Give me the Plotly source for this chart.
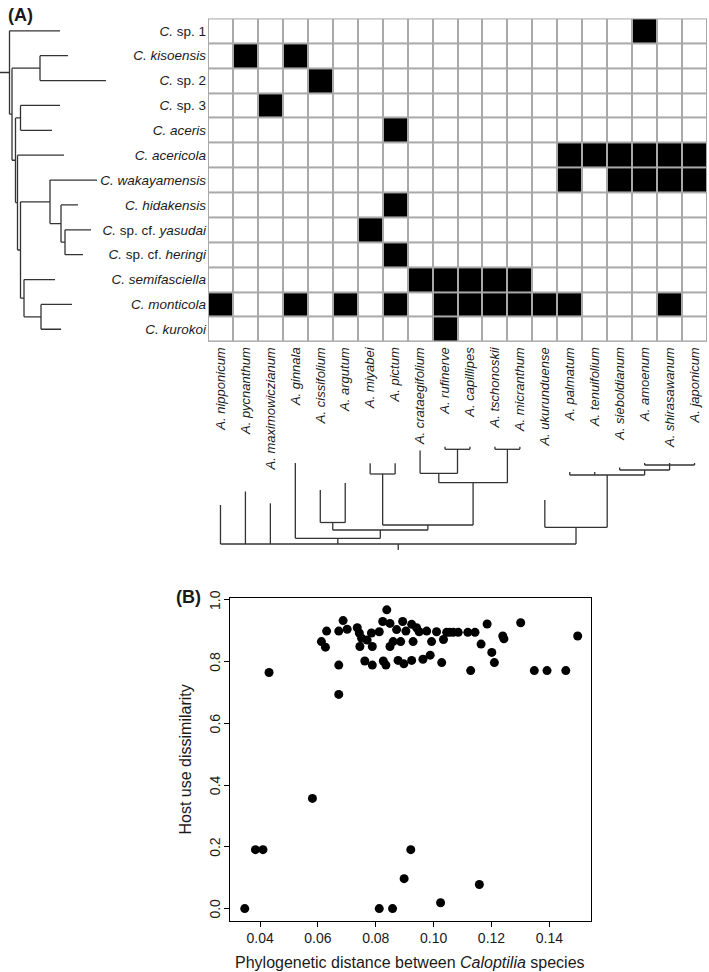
import plotly.graph_objects as go

W, H = 709, 972
FONT = "Liberation Sans, Arial, Helvetica, sans-serif"
TXT = "#1a1a1a"
LINE = "#333333"

# ---------------- data: panel A ----------------
species_keys = ["C_sp1", "C_kisoensis", "C_sp2", "C_sp3", "C_aceris", "C_acericola",
                "C_wakayamensis", "C_hidakensis", "C_yasudai", "C_heringi",
                "C_semifasciella", "C_monticola", "C_kurokoi"]
species_labels = ["<i>C.</i> sp. 1", "<i>C. kisoensis</i>", "<i>C.</i> sp. 2", "<i>C.</i> sp. 3",
                  "<i>C. aceris</i>", "<i>C. acericola</i>", "<i>C. wakayamensis</i>",
                  "<i>C. hidakensis</i>", "<i>C.</i> sp. cf. <i>yasudai</i>",
                  "<i>C.</i> sp. cf. <i>heringi</i>", "<i>C. semifasciella</i>",
                  "<i>C. monticola</i>", "<i>C. kurokoi</i>"]
hosts = ["nipponicum", "pycnanthum", "maximowiczianum", "ginnala", "cissifolium", "argutum",
         "miyabei", "pictum", "crataegifolium", "rufinerve", "capillipes", "tschonoskii",
         "micranthum", "ukurunduense", "palmatum", "tenuifolium", "sieboldianum", "amoenum",
         "shirasawanum", "japonicum"]
host_labels = ["<i>A. " + h + "</i>" for h in hosts]

host_use = [
    ["amoenum"],
    ["pycnanthum", "ginnala"],
    ["cissifolium"],
    ["maximowiczianum"],
    ["pictum"],
    ["palmatum", "tenuifolium", "sieboldianum", "amoenum", "shirasawanum", "japonicum"],
    ["palmatum", "sieboldianum", "amoenum", "shirasawanum", "japonicum"],
    ["pictum"],
    ["miyabei"],
    ["pictum"],
    ["crataegifolium", "rufinerve", "capillipes", "tschonoskii", "micranthum"],
    ["nipponicum", "ginnala", "argutum", "pictum", "rufinerve", "capillipes", "tschonoskii",
     "micranthum", "ukurunduense", "palmatum", "shirasawanum"],
    ["rufinerve"],
]

# phylogenies (branch lengths in relative units)
caloptilia_newick = ("(C_sp1:50.5,((C_kisoensis:28,C_sp2:66):28,((C_sp3:39.5,C_aceris:31.5):5,"
                     "(C_acericola:46.5,((C_wakayamensis:47,(C_hidakensis:17,(C_yasudai:26,"
                     "C_heringi:18):4):11):29.5,(C_semifasciella:31,(C_monticola:31,"
                     "C_kurokoi:20):17):3.5):3):2):3.5):2.5):9.5;")
acer_newick = ("(nipponicum:39,pycnanthum:52.5,maximowiczianum:40.7,(ginnala:75.3,"
               "((cissifolium:32.5,argutum:39.5):7.5,((miyabei:10.7,pictum:10.7):51,"
               "((crataegifolium:22.8,(rufinerve:2.6,capillipes:2.6):24):9.4,"
               "(tschonoskii:2.6,micranthum:2.6):33.4):42.3):5):8.3):5.7,"
               "(ukurunduense:27.3,(palmatum:3,tenuifolium:3,(sieboldianum:2.5,"
               "(amoenum:2,shirasawanum:2,japonicum:2):5):5):52.3):16.7):6;")

# ---------------- data: panel B ----------------
phylo_dist = [0.0347, 0.0384, 0.0410, 0.0581, 0.0812, 0.0858, 0.0898, 0.0921, 0.1024, 0.1158,
              0.0431, 0.0672,
              0.0612, 0.0626, 0.0630, 0.0672, 0.0672, 0.0687, 0.0701, 0.0736, 0.0743, 0.0745,
              0.0751, 0.0762, 0.0770, 0.0785, 0.0788, 0.0788, 0.0812, 0.0826, 0.0835, 0.0838,
              0.0824, 0.0849, 0.0849, 0.0860, 0.0872, 0.0877, 0.0886, 0.0893, 0.0897, 0.0904,
              0.0924, 0.0924, 0.0929, 0.0941, 0.0950, 0.0963, 0.0976, 0.0988, 0.0993, 0.1010,
              0.1028, 0.1034, 0.1045, 0.1056, 0.1068, 0.1085, 0.1118, 0.1143, 0.1185, 0.1164,
              0.1128, 0.1201, 0.1210, 0.1239, 0.1243, 0.1301, 0.1348, 0.1392, 0.1457, 0.1498]
host_dissim = [0.000, 0.191, 0.191, 0.357, 0.000, 0.000, 0.097, 0.191, 0.019, 0.078,
               0.765, 0.694,
               0.865, 0.847, 0.899, 0.899, 0.789, 0.933, 0.905, 0.910, 0.893, 0.849,
               0.876, 0.802, 0.870, 0.893, 0.849, 0.789, 0.897, 0.802, 0.789, 0.968,
               0.930, 0.924, 0.849, 0.865, 0.904, 0.804, 0.865, 0.930, 0.793, 0.899,
               0.921, 0.804, 0.865, 0.910, 0.897, 0.808, 0.899, 0.821, 0.865, 0.897,
               0.797, 0.872, 0.895, 0.895, 0.895, 0.895, 0.895, 0.895, 0.922, 0.857,
               0.771, 0.830, 0.797, 0.883, 0.874, 0.926, 0.771, 0.771, 0.771, 0.883]
x_ticks = [0.04, 0.06, 0.08, 0.10, 0.12, 0.14]
y_ticks = [0.0, 0.2, 0.4, 0.6, 0.8, 1.0]


# ---------------- helpers ----------------
def parse_newick(s):
    s = s.strip().rstrip(";")
    pos = 0

    def node():
        nonlocal pos
        children = []
        if s[pos] == "(":
            pos += 1
            while True:
                children.append(node())
                if s[pos] == ",":
                    pos += 1
                    continue
                if s[pos] == ")":
                    pos += 1
                    break
        start = pos
        while pos < len(s) and s[pos] not in ":,()":
            pos += 1
        name = s[start:pos]
        bl = 0.0
        if pos < len(s) and s[pos] == ":":
            pos += 1
            start = pos
            while pos < len(s) and s[pos] not in ",()":
                pos += 1
            bl = float(s[start:pos])
        return {"name": name, "bl": bl, "children": children}

    return node()


def tree_segments(tree, tip_pos):
    dep, pp = [], []

    def walk(n, parent_depth):
        d = parent_depth + n["bl"]
        if not n["children"]:
            p = tip_pos[n["name"]]
        else:
            ps = [walk(c, d) for c in n["children"]]
            p = (ps[0] + ps[-1]) / 2.0
            dep.extend([d, d, None])
            pp.extend([ps[0], ps[-1], None])
        dep.extend([parent_depth, d, None])
        pp.extend([p, p, None])
        return p

    walk(tree, 0.0)
    return dep, pp


nr, nc = len(species_keys), len(hosts)
z = [[1 if h in host_use[i] else 0 for h in hosts] for i in range(nr)]

# paper geometry (pixels)
gx0, gx1 = 208, 707
gy0, gy1 = 18.4, 341.7


def px(x):
    return x / W


def py(y):
    return 1 - y / H


fig = go.Figure()

fig.add_trace(go.Heatmap(
    z=z, x=list(range(nc)), y=list(range(nr)),
    colorscale=[[0, "white"], [1, "black"]], zmin=0, zmax=1,
    xgap=2, ygap=2, showscale=False, hoverinfo="skip",
    xaxis="x", yaxis="y"))

# left tree (Caloptilia)
ctree = parse_newick(caloptilia_newick)
d1, p1 = tree_segments(ctree, {k: i for i, k in enumerate(species_keys)})
fig.add_trace(go.Scatter(x=d1, y=p1, mode="lines", line=dict(color=LINE, width=1.3),
                         hoverinfo="skip", showlegend=False, xaxis="x2", yaxis="y2"))

# bottom tree (Acer)
atree = parse_newick(acer_newick)
d2, p2 = tree_segments(atree, {h: j for j, h in enumerate(hosts)})
fig.add_trace(go.Scatter(x=p2, y=d2, mode="lines", line=dict(color=LINE, width=1.3),
                         hoverinfo="skip", showlegend=False, xaxis="x3", yaxis="y3"))

# scatter panel B
fig.add_trace(go.Scatter(x=phylo_dist, y=host_dissim, mode="markers",
                         marker=dict(color="black", size=9, line=dict(width=0)),
                         hoverinfo="skip", showlegend=False, xaxis="x4", yaxis="y4"))

hidden = dict(visible=False, showgrid=False, zeroline=False, automargin=False)

annotations = [
    dict(text="<b>(A)</b>", x=px(6), y=py(15), xref="paper", yref="paper",
         xanchor="left", yanchor="middle", showarrow=False,
         font=dict(size=18, color=TXT, family=FONT)),
    dict(text="<b>(B)</b>", x=px(174), y=py(597), xref="paper", yref="paper",
         xanchor="left", yanchor="middle", showarrow=False,
         font=dict(size=18, color=TXT, family=FONT)),
    dict(text="Host use dissimilarity", x=px(185), y=py(759.5), xref="paper", yref="paper",
         xanchor="center", yanchor="middle", textangle=-90, showarrow=False,
         font=dict(size=16, color=TXT, family=FONT)),
    dict(text="Phylogenetic distance between <i>Caloptilia</i> species", x=px(410.4),
         y=py(962.7), xref="paper", yref="paper", xanchor="center", yanchor="middle",
         showarrow=False, font=dict(size=16, color=TXT, family=FONT)),
]
# rotated y tick labels of panel B (R style, parallel to the axis)
for v in y_ticks:
    annotations.append(dict(text="%.1f" % v, x=px(215), y=v, xref="paper", yref="y4",
                            xanchor="center", yanchor="middle", textangle=-90,
                            showarrow=False, font=dict(size=14, color=TXT, family=FONT)))

fig.update_layout(
    width=W, height=H, autosize=False,
    margin=dict(l=0, r=0, t=0, b=0, pad=0),
    paper_bgcolor="white", plot_bgcolor="white",
    template="none",
    font=dict(family=FONT, size=13, color=TXT),
    showlegend=False,
    xaxis=dict(domain=[px(gx0), px(gx1)], range=[-0.5, nc - 0.5], anchor="y",
               tickmode="array", tickvals=list(range(nc)), ticktext=host_labels,
               tickangle=-90, ticks="", showgrid=False, zeroline=False, showline=False,
               ticklabelstandoff=2,
               tickfont=dict(size=13, color=TXT), automargin=False),
    yaxis=dict(domain=[py(gy1), py(gy0)], range=[nr - 0.5, -0.5], anchor="x",
               tickmode="array", tickvals=list(range(nr)), ticktext=species_labels,
               ticks="", showgrid=False, zeroline=False, showline=False,
               ticklabelstandoff=1,
               tickfont=dict(size=13.5, color=TXT), automargin=False),
    xaxis2=dict(domain=[0, px(110)], range=[0, 110], anchor="y2", **hidden),
    yaxis2=dict(domain=[py(gy1), py(gy0)], range=[nr - 0.5, -0.5], anchor="x2", **hidden),
    xaxis3=dict(domain=[px(gx0), px(gx1)], range=[-0.5, nc - 0.5], anchor="y3", **hidden),
    yaxis3=dict(domain=[py(552), py(440)], range=[-2, 110], anchor="x3", **hidden),
    xaxis4=dict(domain=[px(230), px(590.7)], range=[0.0296, 0.1543], anchor="y4",
                tickmode="array", tickvals=x_ticks, ticktext=["%.2f" % v for v in x_ticks],
                ticks="outside", ticklen=5, tickwidth=1, tickcolor="black",
                showline=True, mirror=True, linecolor="black", linewidth=1,
                showgrid=False, zeroline=False, tickfont=dict(size=14, color=TXT),
                automargin=False),
    yaxis4=dict(domain=[py(920.5), py(598.4)], range=[-0.0386, 1.005], anchor="x4",
                tickmode="array", tickvals=y_ticks, showticklabels=False,
                ticks="outside", ticklen=5, tickwidth=1, tickcolor="black",
                showline=True, mirror=True, linecolor="black", linewidth=1,
                showgrid=False, zeroline=False, automargin=False),
    shapes=[dict(type="rect", xref="x", yref="y", x0=-0.5, x1=nc - 0.5, y0=-0.5, y1=nr - 0.5,
                 fillcolor="#a9a9a9", line=dict(color="#a9a9a9", width=1.2), layer="below")],
    annotations=annotations,
)

fig.write_html("out.html", config={"displayModeBar": False},
               post_script="document.body.style.margin='0';document.body.style.padding='0';")
